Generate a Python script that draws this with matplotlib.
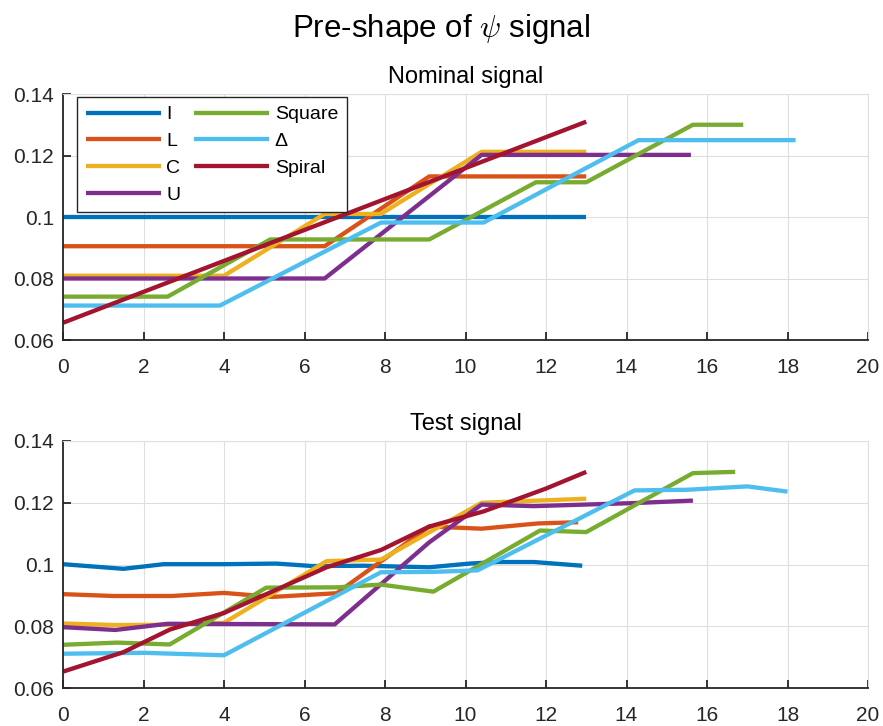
import numpy as np
import matplotlib
matplotlib.use("Agg")
import matplotlib.pyplot as plt

plt.rcParams['font.family'] = ['Liberation Sans', 'DejaVu Sans']
plt.rcParams['mathtext.fontset'] = 'cm'

labels = ['I', 'L', 'C', 'U', 'Square', '\u0394', 'Spiral']
colors = ['#0072BD', '#D95319', '#EDB120', '#7E2F8E', '#77AC30', '#4DBEEE', '#A2142F']

# nominal signal breakpoints
nom_x = [
    [0, 13.0],
    [0, 6.5, 9.1, 13.0],
    [0, 4.0, 6.5, 7.9, 10.4, 13.0],
    [0, 6.5, 10.4, 15.6],
    [0, 2.6, 5.15, 9.1, 11.75, 13.0, 15.65, 16.9],
    [0, 3.9, 7.9, 10.45, 14.3, 18.2],
    [0, 13.0],
]
nom_y = [
    [0.100, 0.100],
    [0.0905, 0.0905, 0.1132, 0.1132],
    [0.0809, 0.0809, 0.1010, 0.1010, 0.1212, 0.1212],
    [0.0800, 0.0800, 0.1202, 0.1202],
    [0.0741, 0.0741, 0.0927, 0.0927, 0.1113, 0.1113, 0.1300, 0.1300],
    [0.0712, 0.0712, 0.0982, 0.0982, 0.1250, 0.1250],
    [0.0656, 0.1310],
]

# test signal samples
test_x = [
    [0, 1.5, 2.5, 4.0, 5.3, 6.2, 7.5, 9.1, 10.1, 10.8, 11.7, 12.9],
    [0, 1.25, 2.7, 4.0, 5.2, 6.8, 9.1, 10.4, 11.8, 12.8],
    [0, 1.3, 2.6, 4.0, 6.55, 7.9, 10.4, 13.0],
    [0, 1.3, 2.6, 6.75, 9.1, 10.4, 11.7, 14.2, 15.65],
    [0, 1.35, 2.65, 5.05, 6.8, 7.9, 9.2, 11.85, 13.0, 15.65, 16.7],
    [0, 2.0, 4.0, 7.9, 9.15, 10.3, 14.2, 15.5, 17.0, 18.0],
    [0, 1.5, 2.65, 4.0, 6.55, 7.9, 9.1, 10.45, 12.0, 13.0],
]
test_y = [
    [0.1001, 0.0986, 0.1001, 0.1001, 0.1003, 0.0995, 0.0996, 0.0991, 0.1003, 0.1008, 0.1008, 0.0996],
    [0.0904, 0.0898, 0.0898, 0.0908, 0.0895, 0.0907, 0.1123, 0.1116, 0.1133, 0.1137],
    [0.0809, 0.0804, 0.0805, 0.0811, 0.1011, 0.1016, 0.1200, 0.1213],
    [0.0797, 0.0788, 0.0808, 0.0806, 0.1072, 0.1194, 0.1189, 0.1199, 0.1207],
    [0.0740, 0.0747, 0.0741, 0.0925, 0.0926, 0.0935, 0.0912, 0.1110, 0.1105, 0.1296, 0.1300],
    [0.0711, 0.0714, 0.0706, 0.0975, 0.0976, 0.0981, 0.1240, 0.1242, 0.1253, 0.1236],
    [0.0653, 0.0716, 0.0789, 0.0843, 0.0991, 0.1047, 0.1123, 0.1172, 0.1246, 0.1300],
]

fig = plt.figure(figsize=(8.83, 7.26), dpi=100)
ax1 = fig.add_axes([63 / 883, 1 - 340 / 726, 805 / 883, 246 / 726])
ax2 = fig.add_axes([63 / 883, 1 - 688 / 726, 805 / 883, 247 / 726])

for ax, xs, ys, title in [(ax1, nom_x, nom_y, 'Nominal signal'),
                          (ax2, test_x, test_y, 'Test signal')]:
    for x, y, lab, c in zip(xs, ys, labels, colors):
        ax.plot(x, y, color=c, lw=3.1, label=lab, solid_capstyle='butt')
    ax.set_xlim(0, 20)
    ax.set_ylim(0.06, 0.14)
    ax.set_xticks(np.arange(0, 21, 2))
    ax.set_yticks([0.06, 0.08, 0.1, 0.12, 0.14])
    ax.set_yticklabels(['0.06', '0.08', '0.1', '0.12', '0.14'])
    ax.grid(True, color='#dedede', lw=0.8)
    ax.set_axisbelow(True)
    ax.tick_params(direction='in', length=5.5, width=1.3, colors='#262626',
                   labelsize=15)
    ax.tick_params(axis='x', pad=13)
    ax.tick_params(axis='y', pad=6.5)
    for s in ['top', 'right']:
        ax.spines[s].set_color('#dedede')
        ax.spines[s].set_linewidth(0.8)
    for s in ['left', 'bottom']:
        ax.spines[s].set_color('#262626')
        ax.spines[s].set_linewidth(1.3)
    ax.set_title(title, fontsize=17, pad=8, color='#000000')

leg = ax1.legend(ncol=2, loc='upper left', bbox_to_anchor=(14 / 805, 1 - 3 / 246),
                 borderaxespad=0, fontsize=14, frameon=True, fancybox=False,
                 edgecolor='#262626', framealpha=1,
                 handlelength=3.85, handletextpad=0.3, columnspacing=0.7,
                 labelspacing=0.47, borderpad=0.45)
leg.get_frame().set_linewidth(1.0)

fig.text(0.5, 1 - 37 / 726, r'Pre-shape of $\psi$ signal', fontsize=22.5,
         ha='center', va='baseline')

fig.savefig('out.png', dpi=100)
